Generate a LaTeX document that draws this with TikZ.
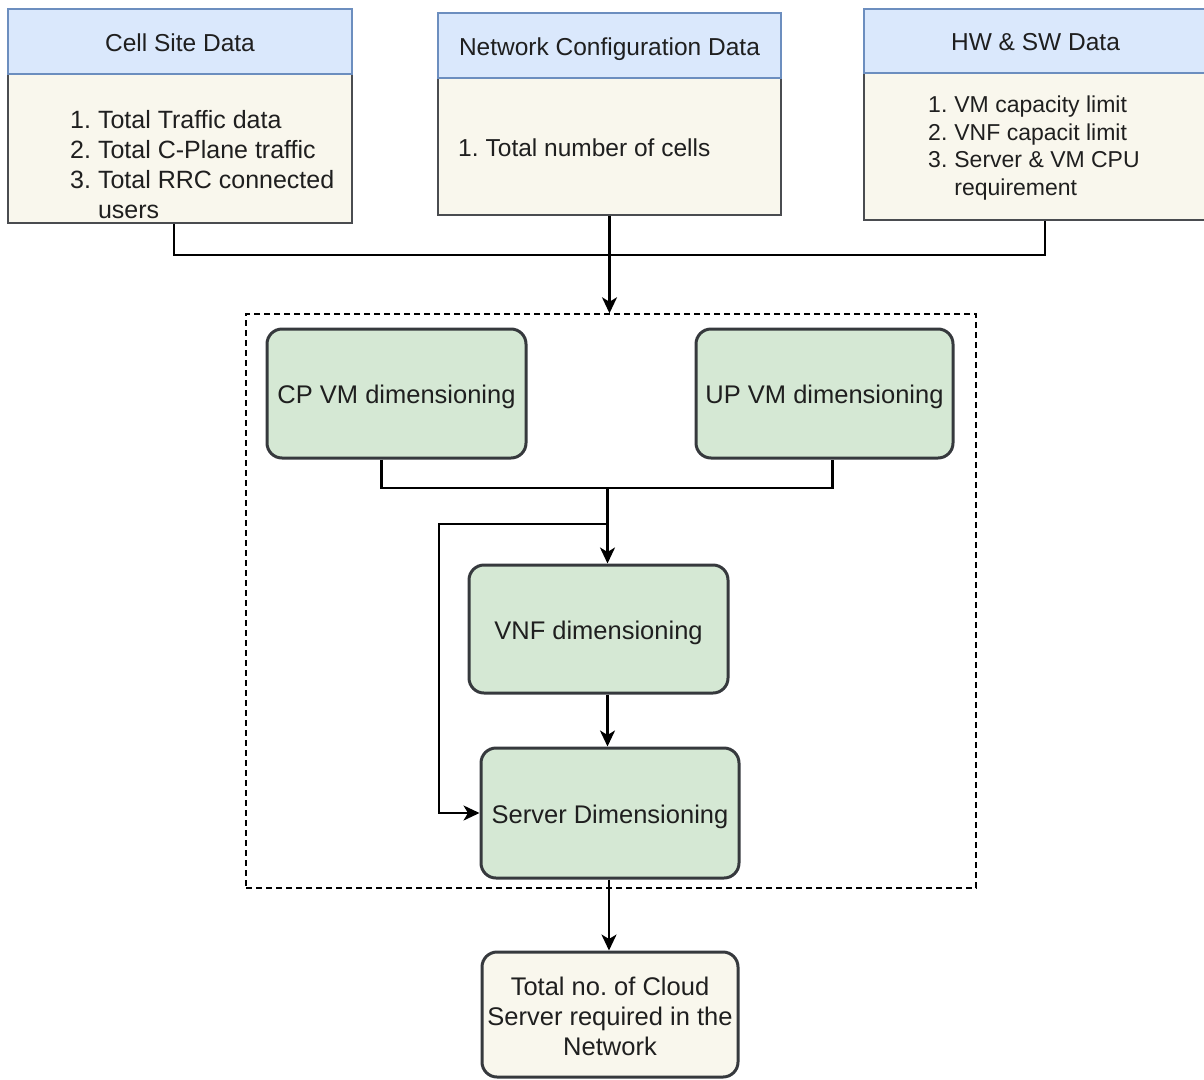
\documentclass[tikz,border=0pt]{standalone}
\usepackage{fontspec}
\setmainfont{Liberation Sans}
\usetikzlibrary{arrows.meta,calc}
\definecolor{hdrfill}{HTML}{DAE8FC}
\definecolor{hdrline}{HTML}{6C8EBF}
\definecolor{notefill}{HTML}{F9F7ED}
\definecolor{noteline}{HTML}{4A4C50}
\definecolor{stagefill}{HTML}{D5E8D4}
\definecolor{stageline}{HTML}{36393D}
\definecolor{ink}{HTML}{1F1F1F}
\frenchspacing

\begin{document}
\begin{tikzpicture}[x=1pt,y=-1pt,
  header/.style={draw=hdrline, fill=hdrfill, line width=1.6pt, inner sep=0pt,
    text=ink, font=\fontsize{24.5}{29.4}\selectfont, text height=22pt, text depth=3pt},
  notebody/.style={draw=noteline, fill=notefill, line width=1.6pt, inner sep=0pt},
  itemlist/.style={inner sep=0pt, anchor=base west, text=ink},
  stage/.style={draw=stageline, fill=stagefill, line width=3pt, rounded corners=15pt,
    inner sep=0pt, text=ink, font=\fontsize{25.5}{30.6}\selectfont,
    text height=23pt, text depth=3pt},
  result/.style={draw=stageline, fill=notefill, line width=3pt, rounded corners=15pt,
    inner sep=0pt},
  group/.style={draw=black, line width=1.4pt, dash pattern=on 6pt off 4pt, inner sep=0pt},
  wire/.style={draw=black, line width=2.2pt},
  flow/.style={wire, -{Stealth[length=16pt,width=15pt,inset=4.5pt]}}
]
\useasboundingbox (0,0) rectangle (1204,1079);

% ---- input data blocks -------------------------------------------------
\node[notebody, minimum width=344pt, minimum height=149pt] (cellbody) at (180,148.5) {};
\node[header, minimum width=344pt, minimum height=65pt] (cellhead) at (180,41.5) {Cell Site Data};
\node[itemlist, font=\fontsize{25}{30}\selectfont] (cellitems) at (70,128)
  {\begin{tabular}[t]{@{}l@{\hspace{7pt}}l@{}}
    1. & Total Traffic data\\
    2. & Total C-Plane traffic\\
    3. & Total RRC connected\\
       & users
   \end{tabular}};

\node[notebody, minimum width=343pt, minimum height=137pt] (netbody) at (609.5,146.5) {};
\node[header, minimum width=343pt, minimum height=65pt] (nethead) at (609.5,45.5) {Network Configuration Data};
\node[itemlist, font=\fontsize{24.5}{29.4}\selectfont] (netitems) at (458,156)
  {\begin{tabular}[t]{@{}l@{\hspace{7pt}}l@{}}
    1. & Total number of cells
   \end{tabular}};

\node[notebody, minimum width=343pt, minimum height=147pt] (hwbody) at (1035.5,146.5) {};
\node[header, minimum width=343pt, minimum height=64pt] (hwhead) at (1035.5,41) {HW \& SW Data};
\node[itemlist, font=\fontsize{23}{27.5}\selectfont] (hwitems) at (928,112.7)
  {\begin{tabular}[t]{@{}l@{\hspace{7pt}}l@{}}
    1. & VM capacity limit\\
    2. & VNF capacit limit\\
    3. & Server \& VM CPU\\
       & requirement
   \end{tabular}};

% ---- dimensioning stages -------------------------------------------------
\node[group, minimum width=730pt, minimum height=574pt] (stages) at (611,601) {};

\node[stage, minimum width=259pt, minimum height=129pt] (cpvm) at (396.5,393.5) {CP VM dimensioning};
\node[stage, minimum width=257pt, minimum height=129pt] (upvm) at (824.5,393.5) {UP VM dimensioning};
\node[stage, minimum width=259pt, minimum height=128pt] (vnf) at (598.5,629) {VNF dimensioning};
\node[stage, minimum width=258pt, minimum height=130pt] (server) at (610,813) {Server Dimensioning};

\node[result, minimum width=256pt, minimum height=125pt] (total) at (610,1014.5) {};
\node[inner sep=0pt, text=ink, align=center, font=\fontsize{25.5}{30}\selectfont,
  anchor=base] (totaltext) at (610,1055)
  {Total no. of Cloud\\Server required in the\\Network};

% ---- connectors -------------------------------------------------------------
\coordinate (inbus) at (609,255);
\draw[wire] ([xshift=-6pt]cellbody.south) -- ([xshift=-6pt]cellbody.south |- inbus)
  -- ([xshift=9.5pt]hwbody.south |- inbus) -- ([xshift=9.5pt]hwbody.south);
\draw[flow] (netbody.south) -- (netbody.south |- stages.north);

\coordinate (vmbus) at (607.5,488);
\coordinate (tap) at (607.5,524);
\coordinate (bend) at (439,524);
\draw[wire] ([xshift=-15pt]cpvm.south) -- ([xshift=-15pt]cpvm.south |- vmbus)
  -- ([xshift=8pt]upvm.south |- vmbus) -- ([xshift=8pt]upvm.south);
\draw[flow] (vmbus) -- (vmbus |- vnf.north);
\draw[flow] (tap) -- (bend) |- (server.west);
\draw[flow] (vnf.south -| vmbus) -- (server.north -| vmbus);
\draw[flow] (server.south -| 609,0) -- (total.north -| 609,0);
\end{tikzpicture}
\end{document}
